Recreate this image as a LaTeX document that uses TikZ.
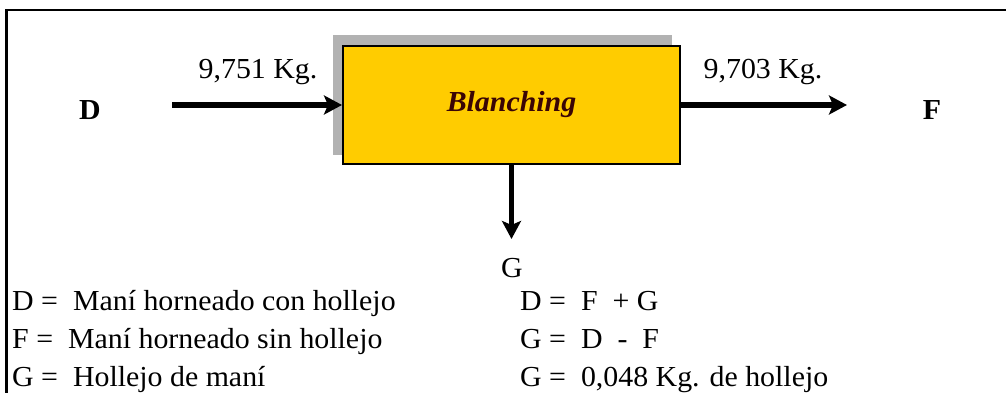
\documentclass[tikz,border=0pt]{standalone}
\usepackage{fontspec}
\setmainfont{Liberation Serif}
\newfontfamily\wideserif[FakeStretch=1.03]{Liberation Serif}
\usetikzlibrary{arrows.meta}
\definecolor{boxgold}{HTML}{FFCC00}
\definecolor{maroon}{HTML}{3A0505}
\tikzset{
  txt/.style={font=\wideserif\fontsize{29}{33}\selectfont, inner sep=0pt},
  boldtxt/.style={font=\wideserif\bfseries\fontsize{29}{33}\selectfont, inner sep=0pt},
  flow/.style={line width=5.5pt, -{Stealth[length=18pt 0, width=19pt 0, inset=4pt 0]}},
  procbox/.style={draw=black, line width=2pt, fill=boxgold, minimum width=337pt, minimum height=117pt, inner sep=0pt,
    font=\wideserif\bfseries\itshape\fontsize{29}{33}\selectfont, text=maroon}
}
\begin{document}
\begin{tikzpicture}[x=1pt,y=-1pt]
\useasboundingbox (0,0) rectangle (1006,393);
\fill[white] (0,0) rectangle (1006,393);
% frame
\draw[line width=2.5pt] (6.5,393) -- (6.5,10) -- (1006,10);
% shadow
\fill[black!30] (333,35) rectangle (672,155);
% process box
\node[procbox] (blanch) at (511.5,105) {Blanching};
% stream labels
\node[boldtxt] (D) at (90,110) {D};
\node[boldtxt] (F) at (932,110) {F};
\node[txt] (G) at (512,268) {G};
\node[txt] (din) at (258,72) {9,751 Kg.};
\node[txt] (fout) at (763,72) {9,703 Kg.};
% connectors
\coordinate (dstart) at (172,105);
\coordinate (fend) at (847,105);
\coordinate (gend) at (511.5,239);
\draw[flow] (dstart) -- (blanch.west);
\draw[flow] (blanch.east) -- (fend);
\draw[flow] (blanch.south) -- (gend);
% legend
\node[txt, anchor=base west] (l1) at (12,310) {D =\ \ Maní horneado con hollejo};
\node[txt, anchor=base west] (l2) at (12,348) {F =\ \ Maní horneado sin hollejo};
\node[txt, anchor=base west] (l3) at (12,386) {G =\ \ Hollejo de maní};
\node[txt, anchor=base west] (e1) at (520,310) {D =\ \ F\ \ + G};
\node[txt, anchor=base west] (e2) at (520,348) {G =\ \ D\ \ -\ \ F};
\node[txt, anchor=base west] (e3) at (520,386) {G =\ \ 0,048 Kg. de hollejo};
\end{tikzpicture}
\end{document}
